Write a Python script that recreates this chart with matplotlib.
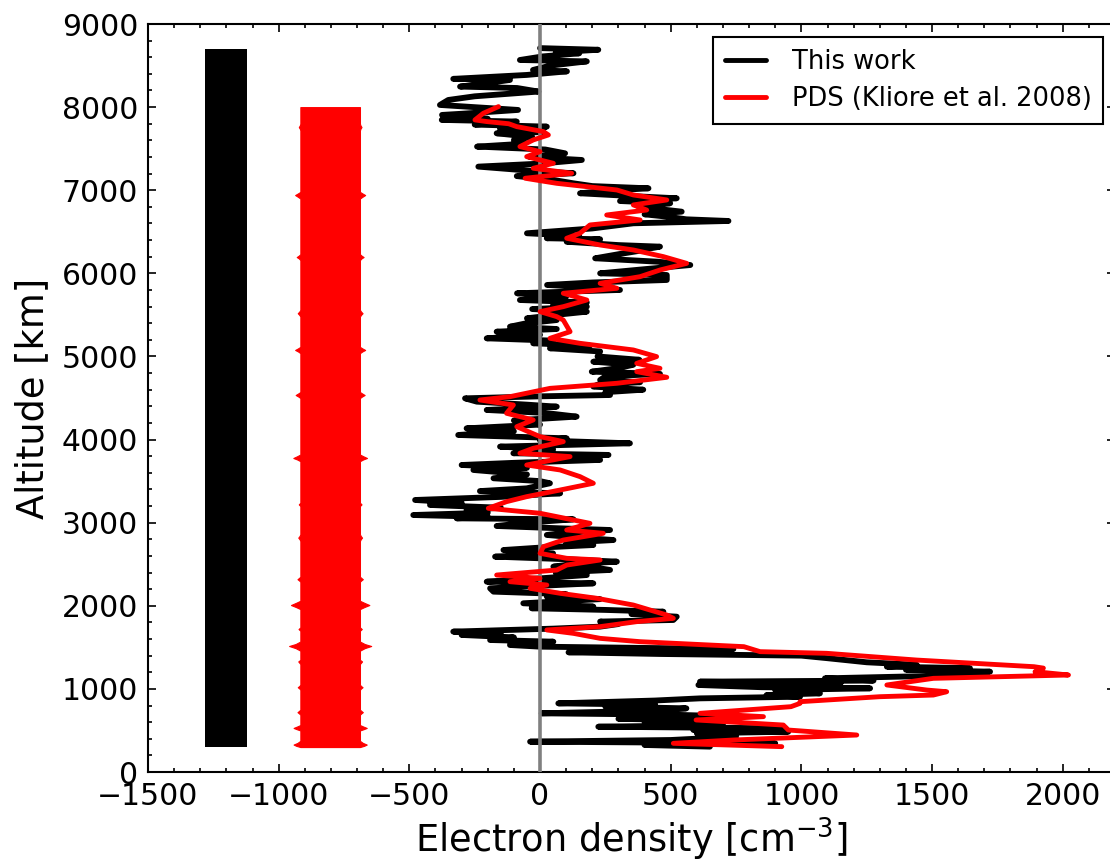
import matplotlib

matplotlib.use("Agg")
import matplotlib.pyplot as plt
from matplotlib.ticker import MultipleLocator

# --- "This work" profile: altitude [km], electron density [cm^-3] ---
this_alt = [8710, 8690, 8660, 8647, 8610, 8567, 8550, 8500, 8447, 8430, 8387, 8340, 8327,
            8290, 8247, 8230, 8187, 8130, 8086, 8026, 7990, 7966, 7920, 7906, 7860, 7846,
            7826, 7790, 7765, 7740, 7700, 7685, 7640, 7605, 7560, 7525, 7490, 7444, 7400,
            7364, 7320, 7284, 7240, 7204, 7170, 7124, 7083, 7050, 7023, 6990, 6963, 6930,
            6903, 6870, 6843, 6800, 6742, 6710, 6682, 6650, 6630, 6602, 6540, 6482, 6450,
            6422, 6410, 6380, 6340, 6321, 6300, 6281, 6230, 6181, 6140, 6100, 6050, 6000,
            5980, 5920, 5890, 5860, 5830, 5800, 5760, 5720, 5679, 5650, 5620, 5599, 5570,
            5539, 5500, 5459, 5438, 5400, 5358, 5330, 5298, 5260, 5218, 5190, 5158, 5130,
            5098, 5060, 5000, 4960, 4937, 4900, 4860, 4817, 4790, 4760, 4717, 4690, 4660,
            4637, 4600, 4570, 4536, 4520, 4496, 4456, 4420, 4396, 4356, 4320, 4276, 4230,
            4180, 4135, 4100, 4055, 4015, 3990, 3955, 3915, 3880, 3835, 3815, 3790, 3755,
            3720, 3694, 3660, 3634, 3580, 3534, 3500, 3474, 3413, 3380, 3353, 3310, 3273,
            3240, 3213, 3180, 3153, 3120, 3092, 3070, 3052, 3040, 3000, 2960, 2932, 2912,
            2880, 2852, 2820, 2791, 2760, 2731, 2700, 2671, 2630, 2591, 2560, 2531, 2500,
            2471, 2450, 2431, 2400, 2370, 2330, 2290, 2270, 2240, 2210, 2170, 2140, 2110,
            2080, 2050, 2030, 1990, 1970, 1950, 1929, 1900, 1869, 1829, 1810, 1780, 1749,
            1725, 1709, 1689, 1670, 1649, 1620, 1588, 1568, 1550, 1528, 1508, 1480, 1450,
            1440, 1420, 1400, 1370, 1320, 1290, 1267, 1250, 1230, 1207, 1180, 1167, 1127,
            1100, 1087, 1067, 1047, 1020, 1007, 986, 966, 946, 926, 906, 886, 860, 826, 810,
            786, 766, 740, 706, 690, 666, 640, 620, 600, 565, 545, 525, 505, 485, 465, 425,
            385, 365, 345, 325, 305]
this_ne = [0, 223, 60, 150, 10, -77, 179, 40, -27, 103, -51, -332, -115,
           -200, -306, -88, -6, -250, -351, -383, -200, -84, -300, -375, -200, -376,
           -89, -250, 26, -153, 13, -166, -30, -100, -60, -241, 20, 96, -40,
           160, 0, -236, -60, 128, -89, 50, 128, 200, 415, 240, 153, 350,
           523, 306, 498, 380, 542, 400, 485, 560, 721, 357, 200, -50, 150,
           26, 230, 102, 300, 459, 421, 400, 300, 211, 450, 575, 400, 230,
           485, 485, 200, 27, 200, 306, -88, 100, -77, 179, 50, 179, -30,
           179, 60, -50, 64, -51, -115, 64, -166, 0, -204, 50, -26, 191,
           38, 230, 220, 380, 204, 357, 300, 198, 459, 250, 230, 383, 220,
           204, 395, 250, 268, 0, -287, -242, -50, 64, -204, 20, 140, -100,
           0, -281, -100, -313, 102, 0, 344, -153, 50, -102, 262, 50, 230,
           -100, -300, -50, -255, -50, -178, 0, 38, -51, -230, 77, -150, -478,
           -300, -421, -150, -281, -200, -485, -200, -319, 128, -50, -166, 77, 268,
           100, 26, 150, 281, 100, 204, 0, -140, 50, -172, 100, 294, 120,
           51, 230, 268, 60, 179, 0, -204, 204, 0, -191, -178, 100, 26,
           230, 50, -64, 204, -32, 250, 472, 350, 523, 510, 230, 300, 230,
           50, -115, -332, -150, -300, -100, -191, 51, -50, -115, 0, 740, 300,
           109, 459, 1000, 1097, 1250, 1441, 1327, 1645, 1400, 1722, 1500, 1658, 1090,
           1276, 612, 1150, 606, 849, 1263, 900, 995, 1071, 867, 995, 612, 440, 70, 440,
           250, 560, 459, 6, 500, 770, 300, 612, 400, 700, 223, 940, 587, 950, 600, 750,
           500, -38, 900, 400, 650]

# --- PDS (Kliore et al. 2008) profile ---
pds_alt = [8006, 7926, 7846, 7826, 7800, 7765, 7705, 7665, 7605, 7525, 7464, 7404, 7324,
           7264, 7204, 7144, 7083, 7043, 7003, 6943, 6883, 6823, 6762, 6702, 6642, 6582,
           6482, 6422, 6341, 6281, 6201, 6120, 6040, 5960, 5880, 5820, 5760, 5679, 5599,
           5539, 5479, 5438, 5298, 5218, 5158, 5078, 4998, 4917, 4857, 4817, 4749, 4677,
           4616, 4516, 4476, 4416, 4316, 4236, 4155, 4035, 3975, 3895, 3835, 3795, 3694,
           3634, 3554, 3474, 3393, 3313, 3253, 3173, 3113, 3032, 2992, 2912, 2872, 2791,
           2711, 2631, 2571, 2551, 2490, 2430, 2370, 2330, 2290, 2250, 2210, 2150, 2090,
           2009, 1949, 1889, 1849, 1809, 1749, 1709, 1668, 1608, 1568, 1508, 1448, 1428,
           1347, 1267, 1250, 1207, 1167, 1127, 1047, 986, 966, 926, 906, 846, 826, 786,
           706, 666, 626, 565, 505, 445, 385, 345, 305]
pds_ne = [-159, -217, -249, -204, -120, -89, 13, 32, -26, -77, 0, -51, 51,
          -26, 121, -57, 64, 179, 294, 357, 485, 357, 408, 255, 383, 191,
          153, 102, 230, 357, 472, 561, 459, 383, 230, 294, 89, 179, 89,
          0, 64, 89, 115, 38, 153, 357, 446, 370, 459, 370, 485, 294,
          38, -115, -230, -102, -128, -26, -89, 0, 89, -26, -77, 115, -51,
          77, 153, 204, 77, -51, -128, -198, 0, 128, 191, 102, 242, 89,
          13, 0, 102, 230, 102, 64, -166, 0, -115, 26, -38, 77, 217,
          357, 421, 485, 510, 370, 230, 26, 128, 230, 383, 780, 842, 1097,
          1441, 1890, 1926, 1894, 2022, 1505, 1327, 1480, 1556, 1505, 1300, 995, 995, 960,
          612, 855, 597, 931, 950, 1212, 740, 510, 925]

# --- representative uncertainty bars ---
this_err_center = -1200
this_err_half = 80
this_err_alt = [300, 8700]

pds_err_center = -803
pds_err_alt = [300, 315, 330, 350, 375, 500, 515, 530, 548, 565, 690, 705, 720, 735, 750,
               990, 1005, 1020, 1035, 1050, 1300, 1330, 1350, 1460, 1490, 1516, 1540, 1570,
               1700, 1720, 1740, 1960, 1985, 2009, 2035, 2060, 2290, 2305, 2320, 2335, 2350,
               2780, 2800, 2820, 2840, 2860, 3200, 3220, 3240, 3740, 3760, 3778, 3800, 3820,
               4500, 4518, 4536, 4555, 4572, 5040, 5060, 5078, 5097, 5115, 5480, 5500, 5520,
               5540, 5560, 6160, 6180, 6196, 6213, 6230, 6900, 6920, 6942, 6962, 6980, 7720,
               7740, 7760, 7780, 7800, 8000]
pds_err_half = [114, 130, 140, 125, 114, 114, 128, 140, 126, 114, 114, 119, 125, 119, 114,
                114, 118, 124, 118, 114, 114, 122, 114, 114, 132, 157, 132, 114,
                114, 121, 114, 114, 131, 150, 131, 114, 114, 119, 125, 119, 114,
                114, 117, 122, 117, 114, 114, 120, 114, 114, 126, 141, 126, 114,
                114, 122, 132, 122, 114, 114, 123, 134, 123, 114, 114, 118, 124,
                118, 114, 114, 120, 128, 120, 114, 114, 123, 134, 123, 114, 114,
                116, 120, 116, 114, 114]

plt.rcParams["font.family"] = "DejaVu Sans"
plt.rcParams["mathtext.fontset"] = "dejavusans"

fig = plt.figure(figsize=(11.1, 8.63), dpi=100)
ax = fig.add_axes([148 / 1110, 91 / 863, (1115 - 148) / 1110, 748 / 863])

ax.fill_betweenx(this_err_alt, this_err_center - this_err_half,
                 this_err_center + this_err_half, color="black", lw=0)
ax.fill_betweenx(pds_err_alt, [pds_err_center - h for h in pds_err_half],
                 [pds_err_center + h for h in pds_err_half], color="red", lw=0.8,
                 edgecolor="red")

ax.plot(this_ne, this_alt, color="black", lw=4.2, solid_capstyle="round",
        label="This work", zorder=3)
ax.axvline(0, color="gray", lw=2.6, zorder=3.5)
ax.plot(pds_ne, pds_alt, color="red", lw=3.5, solid_capstyle="round",
        label="PDS (Kliore et al. 2008)", zorder=4)

ax.set_xlim(-1500, 2200)
ax.set_ylim(0, 9000)
ax.xaxis.set_major_locator(MultipleLocator(500))
ax.xaxis.set_minor_locator(MultipleLocator(100))
ax.yaxis.set_major_locator(MultipleLocator(1000))
ax.yaxis.set_minor_locator(MultipleLocator(200))
ax.tick_params(which="both", direction="in", top=True, right=True, width=1.2)
ax.tick_params(which="major", length=6, pad=7, labelsize=21.5)
ax.tick_params(which="minor", length=3)
for sp in ax.spines.values():
    sp.set_linewidth(1.5)

ax.set_xlabel("Electron density [cm$^{-3}$]", fontsize=26.5, labelpad=4)
ax.set_ylabel("Altitude [km]", fontsize=26.5, labelpad=8)

leg = ax.legend(loc="upper right", bbox_to_anchor=((1103 - 148) / 967, (772 - 37) / 748),
                borderaxespad=0, fontsize=18.5, fancybox=False, framealpha=1,
                edgecolor="black", handlelength=1.6, handletextpad=1.0,
                labelspacing=0.45, borderpad=0.45)
leg.get_frame().set_linewidth(1.5)
for line in leg.get_lines():
    line.set_linewidth(3.5)

fig.savefig("out.png", dpi=100)
